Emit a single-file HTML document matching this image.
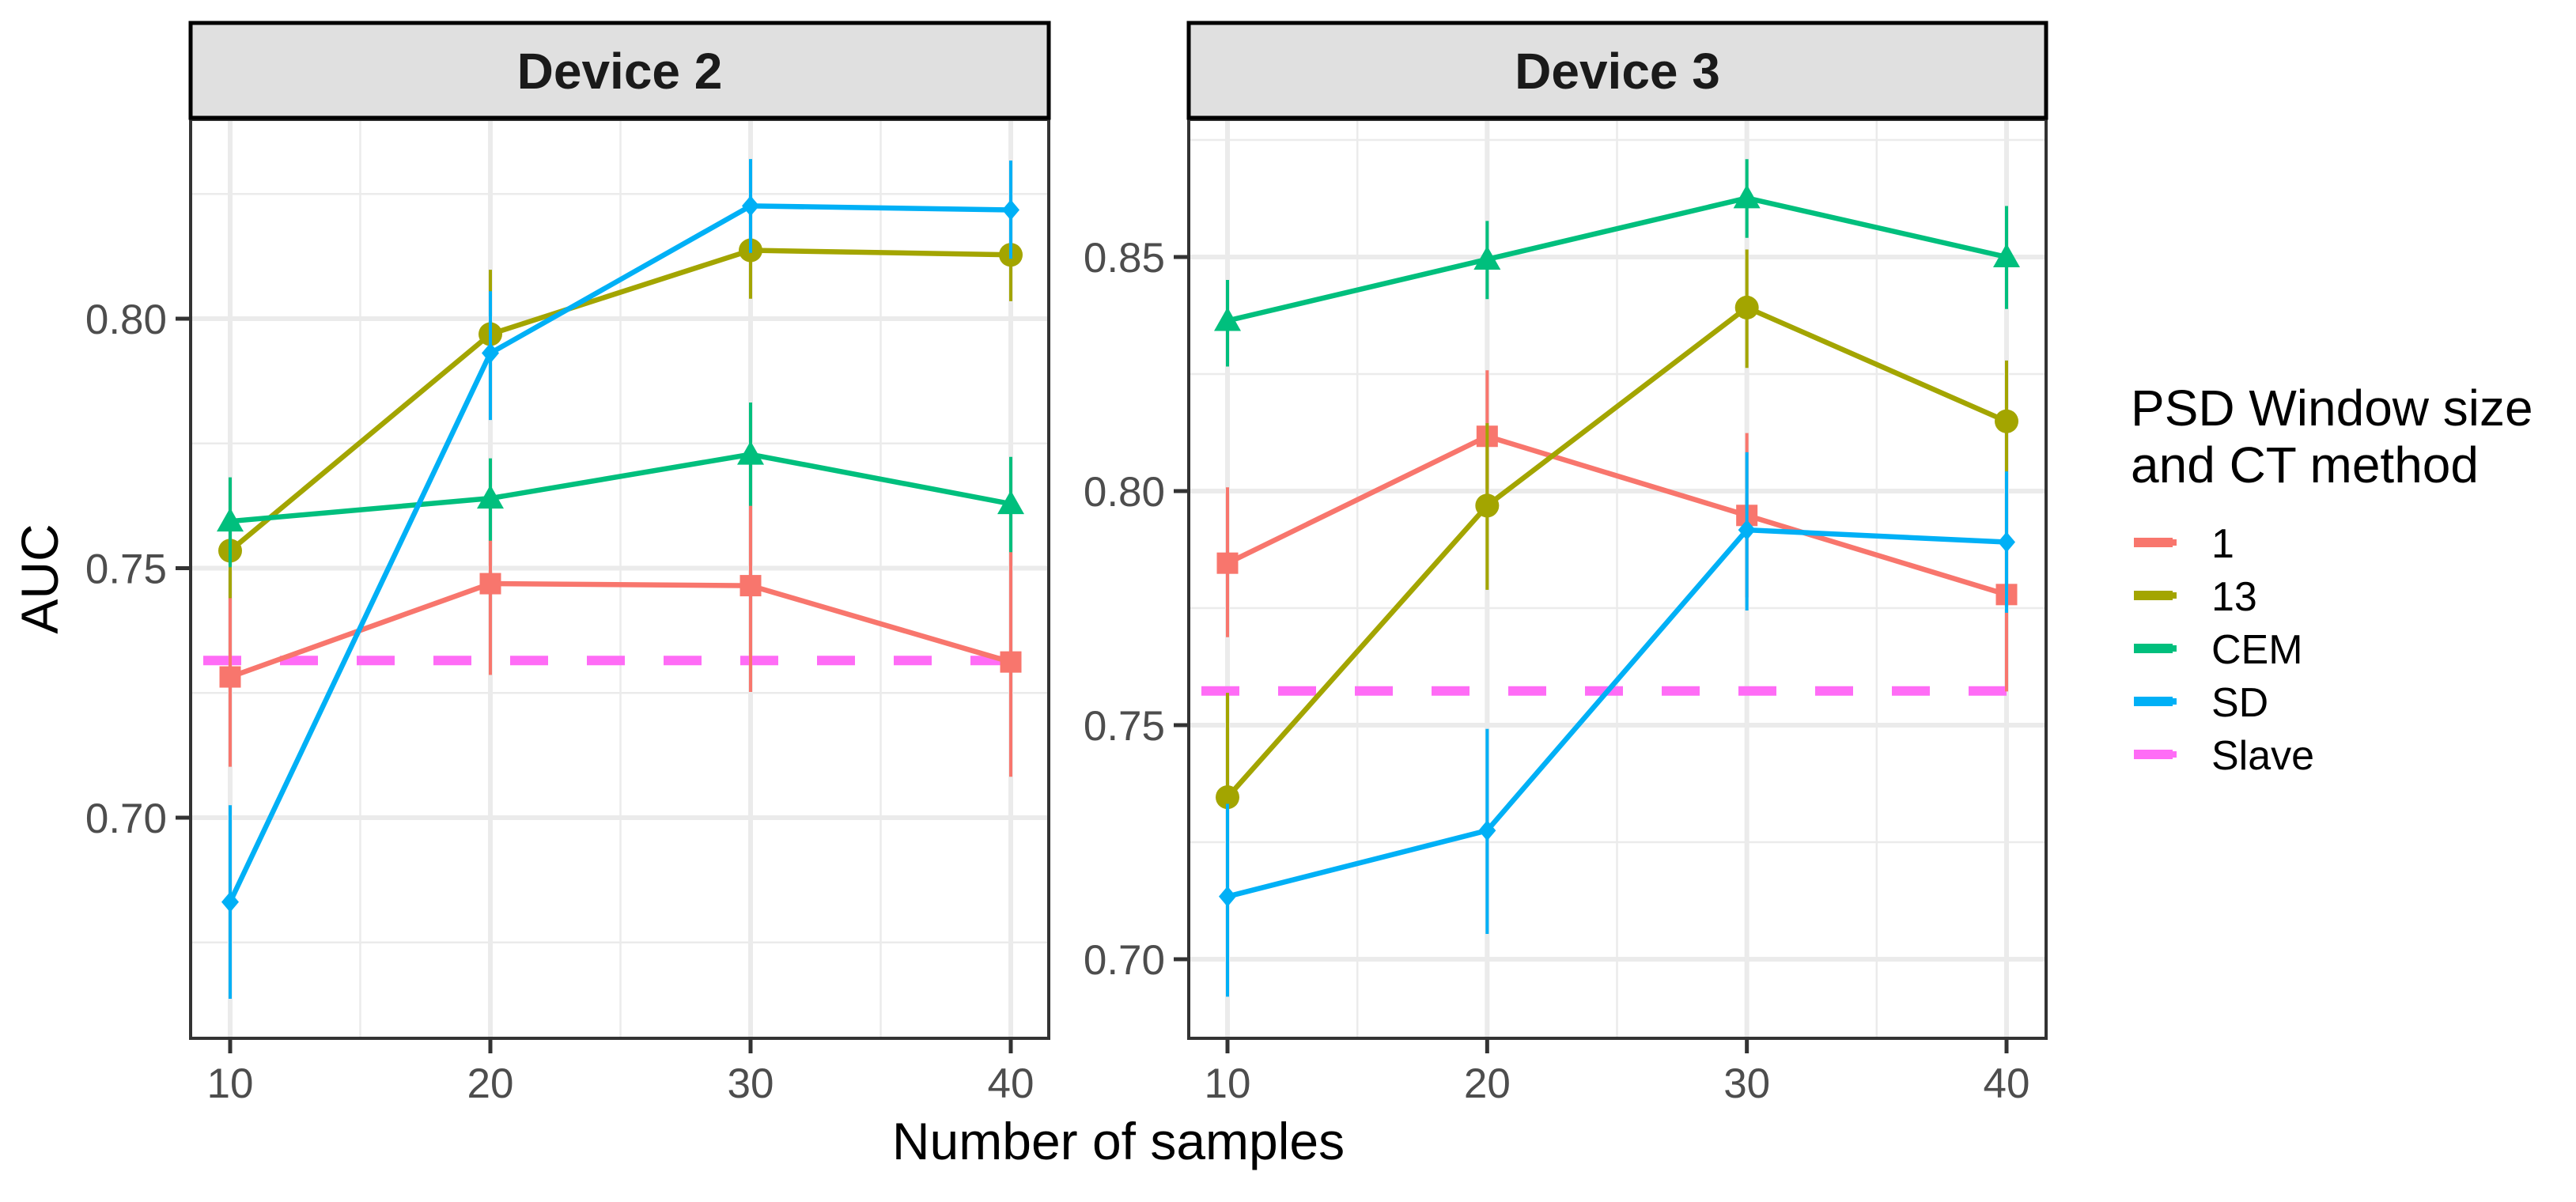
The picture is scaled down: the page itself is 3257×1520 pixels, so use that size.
<!DOCTYPE html>
<html><head><meta charset="utf-8"><style>
body{margin:0;background:#fff}
svg{display:block;font-family:"Liberation Sans",Arial,sans-serif}
</style></head><body>
<svg id="chart" width="3257" height="1520" viewBox="0 0 3257 1520" xmlns="http://www.w3.org/2000/svg"></svg>
<script>
const xCats = [10, 20, 30, 40];
const seriesNames = ["1", "13", "CEM", "SD"];
const seriesColors = ["#F8766D", "#A3A500", "#00BF7D", "#00B0F6"];
const seriesShapes = ["square", "circle", "triangle", "diamond"];
const d2_1 = [0.7282, 0.7469, 0.7465, 0.7312];
const d2_1_lo = [0.7102, 0.7286, 0.7252, 0.7082];
const d2_1_hi = [0.7466, 0.7674, 0.7678, 0.7545];
const d2_13 = [0.7535, 0.7969, 0.8137, 0.8128];
const d2_13_lo = [0.7440, 0.7840, 0.8040, 0.8035];
const d2_13_hi = [0.7670, 0.8098, 0.8271, 0.8255];
const d2_cem = [0.7594, 0.7640, 0.7728, 0.7629];
const d2_cem_lo = [0.7502, 0.7555, 0.7625, 0.7532];
const d2_cem_hi = [0.7682, 0.7720, 0.7832, 0.7723];
const d2_sd = [0.6831, 0.7931, 0.8226, 0.8218];
const d2_sd_lo = [0.6637, 0.7797, 0.8132, 0.8120];
const d2_sd_hi = [0.7025, 0.8055, 0.8320, 0.8317];
const d2_slave = 0.7315;
const d3_1 = [0.7846, 0.8117, 0.7948, 0.7779];
const d3_1_lo = [0.7688, 0.7985, 0.7773, 0.7572];
const d3_1_hi = [0.8008, 0.8258, 0.8124, 0.7985];
const d3_13 = [0.7346, 0.7969, 0.8392, 0.8149];
const d3_13_lo = [0.7119, 0.7789, 0.8263, 0.8015];
const d3_13_hi = [0.7569, 0.8145, 0.8516, 0.8279];
const d3_cem = [0.8364, 0.8495, 0.8626, 0.8500];
const d3_cem_lo = [0.8266, 0.8410, 0.8541, 0.8389];
const d3_cem_hi = [0.8451, 0.8577, 0.8709, 0.8609];
const d3_sd = [0.7134, 0.7275, 0.7917, 0.7891];
const d3_sd_lo = [0.6920, 0.7054, 0.7745, 0.7740];
const d3_sd_hi = [0.7332, 0.7492, 0.8083, 0.8042];
const d3_slave = 0.7573;
const d2_yTicks = [0.70, 0.75, 0.80];
const d3_yTicks = [0.70, 0.75, 0.80, 0.85];
const xTickLabels = ["10", "20", "30", "40"];
const legendLabels = ["1", "13", "CEM", "SD", "Slave"];

const NS = "http://www.w3.org/2000/svg";
const svg = document.getElementById("chart");
function el(tag, attrs, parent) {
  const e = document.createElementNS(NS, tag);
  for (const k in attrs) e.setAttribute(k, attrs[k]);
  (parent || svg).appendChild(e);
  return e;
}

const panels = [
  {title: "Device 2", left: 241, right: 1326, x10: 291, x40: 1278, yA: 0.80, pA: 403, yB: 0.70, pB: 1034, ticks: d2_yTicks,
   data: [[d2_1, d2_1_lo, d2_1_hi], [d2_13, d2_13_lo, d2_13_hi], [d2_cem, d2_cem_lo, d2_cem_hi], [d2_sd, d2_sd_lo, d2_sd_hi]], slave: d2_slave},
  {title: "Device 3", left: 1503, right: 2587, x10: 1552, x40: 2537, yA: 0.85, pA: 325, yB: 0.70, pB: 1213, ticks: d3_yTicks,
   data: [[d3_1, d3_1_lo, d3_1_hi], [d3_13, d3_13_lo, d3_13_hi], [d3_cem, d3_cem_lo, d3_cem_hi], [d3_sd, d3_sd_lo, d3_sd_hi]], slave: d3_slave}
];
const plotTop = 151, plotBottom = 1313, stripTop = 29;

function marker(g, shape, cx, cy, color) {
  let m;
  if (shape === "square") m = el("rect", {x: cx - 13.5, y: cy - 13.5, width: 27, height: 27, fill: color}, g);
  else if (shape === "circle") m = el("circle", {cx: cx, cy: cy, r: 15, fill: color}, g);
  else if (shape === "triangle") m = el("polygon", {points: `${cx},${cy - 17} ${cx + 17},${cy + 13} ${cx - 17},${cy + 13}`, fill: color}, g);
  else m = el("polygon", {points: `${cx},${cy - 13} ${cx + 11},${cy} ${cx},${cy + 13} ${cx - 11},${cy}`, fill: color}, g);
  return m;
}

panels.forEach((p, pi) => {
  const xs = v => p.x10 + (v - 10) / 30 * (p.x40 - p.x10);
  const ys = v => p.pA + (v - p.yA) / (p.yB - p.yA) * (p.pB - p.pA);
  const yMax = p.yA + (plotTop - p.pA) / (p.pB - p.pA) * (p.yB - p.yA);
  const yMin = p.yA + (plotBottom - p.pA) / (p.pB - p.pA) * (p.yB - p.yA);
  const g = el("g", {});
  
  
  el("rect", {x: p.left, y: plotTop, width: p.right - p.left, height: plotBottom - plotTop, fill: "#fff"}, g);
  for (let k = Math.ceil(yMin * 40); k <= Math.floor(yMax * 40); k++) {
    if (k % 2 !== 0) {
      const vv = k / 40;
      el("line", {x1: p.left, x2: p.right, y1: ys(vv), y2: ys(vv), stroke: "#ebebeb", "stroke-width": 2.5}, g);
    }
  }
  [15, 25, 35].forEach(v => el("line", {x1: xs(v), x2: xs(v), y1: plotTop, y2: plotBottom, stroke: "#ebebeb", "stroke-width": 2.5}, g));
  p.ticks.forEach(v => {
    const l = el("line", {x1: p.left, x2: p.right, y1: ys(v), y2: ys(v), stroke: "#ebebeb", "stroke-width": 6}, g);
    
    
  });
  xCats.forEach(v => el("line", {x1: xs(v), x2: xs(v), y1: plotTop, y2: plotBottom, stroke: "#ebebeb", "stroke-width": 6}, g));
  const sl = el("line", {x1: p.left, x2: p.right, y1: ys(p.slave), y2: ys(p.slave), stroke: "#FF6CF6", "stroke-width": 12, "stroke-dasharray": "48 49", "stroke-dashoffset": "-16"}, g);
  
  
  p.data.forEach((s, si) => {
    const sg = el("g", {}, g);
    
    
    const col = seriesColors[si];
    xCats.forEach((x, i) => {
      const eb = el("line", {x1: xs(x), x2: xs(x), y1: ys(s[1][i]), y2: ys(s[2][i]), stroke: col, "stroke-width": 4}, sg);
      
      
    });
    const pts = xCats.map((x, i) => xs(x) + "," + ys(s[0][i])).join(" ");
    const pl = el("polyline", {points: pts, fill: "none", stroke: col, "stroke-width": 6.5, "stroke-linejoin": "round"}, sg);
    
    
    xCats.forEach((x, i) => {
      const m = marker(sg, seriesShapes[si], xs(x), ys(s[0][i]), col);
      
      
    });
  });
  el("rect", {x: p.left, y: plotTop, width: p.right - p.left, height: plotBottom - plotTop, fill: "none", stroke: "#333", "stroke-width": 4}, g);
  const st = el("rect", {x: p.left, y: stripTop, width: p.right - p.left, height: 120, fill: "#e0e0e0", stroke: "#000", "stroke-width": 5}, g);
  
  
  const tt = el("text", {x: (p.left + p.right) / 2, y: 112, "text-anchor": "middle", "font-size": 64, "font-weight": "bold", fill: "#1a1a1a"}, g);
  tt.textContent = p.title;
  
  
  p.ticks.forEach(v => {
    el("line", {x1: p.left - 19, x2: p.left, y1: ys(v), y2: ys(v), stroke: "#333", "stroke-width": 5}, g);
    const t = el("text", {x: p.left - 30, y: ys(v) + 19, "text-anchor": "end", "font-size": 53, fill: "#4d4d4d"}, g);
    t.textContent = v.toFixed(2);
    
    
  });
  xCats.forEach((v, i) => {
    el("line", {x1: xs(v), x2: xs(v), y1: plotBottom, y2: plotBottom + 19, stroke: "#333", "stroke-width": 5}, g);
    const t = el("text", {x: xs(v), y: 1388, "text-anchor": "middle", "font-size": 53, fill: "#4d4d4d"}, g);
    t.textContent = xTickLabels[i];
    
    
  });
});

const xt = el("text", {x: 1414, y: 1466, "text-anchor": "middle", "font-size": 66, fill: "#000"});
xt.textContent = "Number of samples";


const yt = el("text", {x: 0, y: 0, "text-anchor": "middle", "font-size": 66, fill: "#000", transform: "translate(73,732) rotate(-90)"});
yt.textContent = "AUC";



const lg = el("g", {});


const lt1 = el("text", {x: 2694, y: 538, "font-size": 64, fill: "#000"}, lg);
lt1.textContent = "PSD Window size";


const lt2 = el("text", {x: 2694, y: 610, "font-size": 64, fill: "#000"}, lg);
lt2.textContent = "and CT method";


const legColors = seriesColors.concat(["#FF6CF6"]);
const rowY = [686, 753, 820, 887, 954];
legendLabels.forEach((lab, i) => {
  const eg = el("g", {}, lg);
  
  
  el("rect", {x: 2698, y: rowY[i] - 6, width: 49, height: 12, fill: legColors[i]}, eg);
  el("rect", {x: 2745, y: rowY[i] - 4, width: 7, height: 8, fill: legColors[i]}, eg);
  const t = el("text", {x: 2796, y: rowY[i] + 19, "font-size": 52, fill: "#000"}, eg);
  t.textContent = lab;
});
</script>
</body></html>
